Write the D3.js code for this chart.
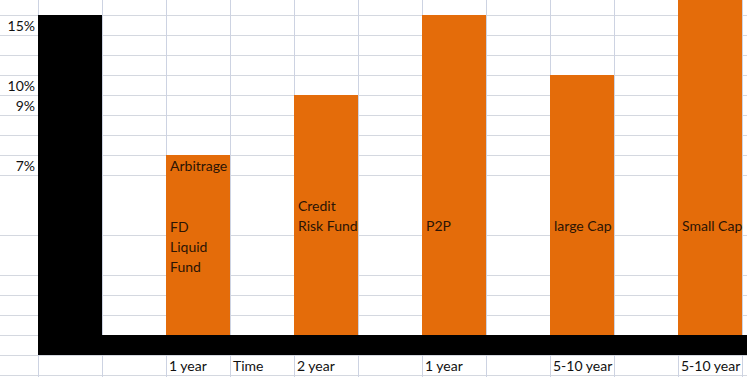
<!DOCTYPE html>
<html>
<head>
<meta charset="utf-8">
<script src="https://cdn.jsdelivr.net/npm/d3@7"></script>
<style>
  html, body { margin: 0; padding: 0; background: #fff; }
  svg { display: block; font-family: Lato, "Open Sans", sans-serif; font-size: 14px; }
</style>
</head>
<body>
<svg width="747" height="377"></svg>
<script>
// sheet columns (A holds the % labels, B is the black axis)
const columns = ["B", "C", "D", "E", "F", "G", "H", "I", "J", "K", "L", "M"];

// funds and their returns (%)
const fundCols = ["D", "F", "H", "J", "L"];
const fundLabels = [["Arbitrage"], ["Credit", "Risk Fund"], ["P2P"], ["large Cap"], ["Small Cap"]];
const fundReturns = [7, 9, 15, 10, 17];
const extraLabel = ["FD", "Liquid", "Fund"];

// time horizon row
const horizonCols = ["D", "E", "F", "H", "J", "L"];
const horizonLabels = ["1 year", "Time", "2 year", "1 year", "5-10 year", "5-10 year"];

// percent labels in column A
const pctTicks = [15, 10, 9, 7];

const svg = d3.select("svg");

// prettier-ignore
const x = d3.scaleBand()
    .domain(columns)
    .range([38, 38 + 64 * columns.length])

// prettier-ignore
const y = d3.scaleLinear()
    .domain([0, 7, 9, 10, 15])
    .range([335, 155, 95, 75, 15])

// spreadsheet rows
const rowLines = d3.range(15, 176, 20).concat([235, 275, 295, 315, 335, 355, 375]);
const colLines = [38].concat(columns.map((c) => x(c) + x.bandwidth()));

// prettier-ignore
svg.append("g")
    .selectAll("line")
    .data(rowLines)
    .join("line")
    .attr("x1", 0).attr("x2", 747)
    .attr("y1", (d) => d + 0.5).attr("y2", (d) => d + 0.5)
    .attr("stroke", "#d4d8e0")

// prettier-ignore
svg.append("g")
    .selectAll("line")
    .data(colLines)
    .join("line")
    .attr("x1", (d) => d + 0.5).attr("x2", (d) => d + 0.5)
    .attr("y1", 0).attr("y2", 377)
    .attr("stroke", "#cdd3e2")

// orange bars
// prettier-ignore
svg.append("g")
    .selectAll("rect")
    .data(fundCols)
    .join("rect")
    .attr("x", (d) => x(d))
    .attr("width", x.bandwidth())
    .attr("y", (d, i) => y(fundReturns[i]))
    .attr("height", (d, i) => y(0) - y(fundReturns[i]))
    .attr("fill", "#e46c0a")

// black L shaped axis
svg.append("rect")
    .attr("x", x("B")).attr("width", x.bandwidth())
    .attr("y", y(15)).attr("height", y(0) + 20 - y(15))
    .attr("fill", "#000");
svg.append("rect")
    .attr("x", x("B")).attr("width", 747 - x("B"))
    .attr("y", y(0)).attr("height", 20)
    .attr("fill", "#000");

// percent labels
// prettier-ignore
svg.append("g")
    .selectAll("text")
    .data(pctTicks)
    .join("text")
    .attr("x", 35)
    .attr("y", (d) => y(d) + 16)
    .attr("text-anchor", "end")
    .attr("fill", "#111")
    .text((d) => d + "%")

// fund labels: Arbitrage sits in its own row, the others at the foot of the tall row
const labelG = svg.append("g").attr("fill", "#2b1405");
fundCols.forEach((c, i) => {
  const lines = fundLabels[i];
  const base = i === 0 ? y(fundReturns[i]) + 16 : 231 - 20 * (lines.length - 1);
  lines.forEach((t, j) => {
    labelG.append("text").attr("x", x(c) + 4).attr("y", base + 20 * j).text(t);
  });
});
extraLabel.forEach((t, j) => {
  labelG.append("text").attr("x", x("D") + 4).attr("y", 232 + 20 * j).text(t);
});

// horizon row
// prettier-ignore
svg.append("g")
    .selectAll("text")
    .data(horizonCols)
    .join("text")
    .attr("x", (d) => x(d) + 3)
    .attr("y", y(0) + 36)
    .attr("fill", "#111")
    .text((d, i) => horizonLabels[i])
</script>
</body>
</html>
